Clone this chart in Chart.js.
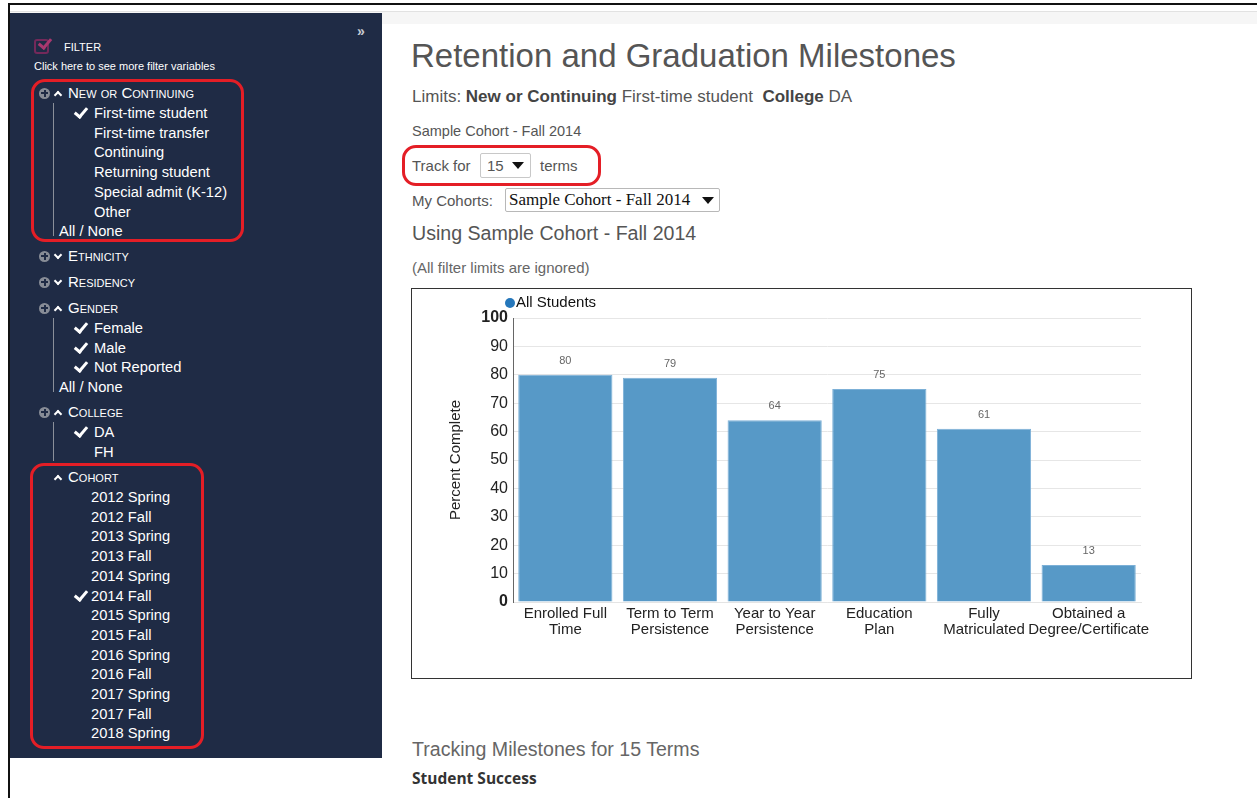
<!DOCTYPE html>
<html>
<head>
<meta charset="utf-8">
<script src="https://cdn.jsdelivr.net/npm/chart.js@4"></script>
<style>
  html, body { margin: 0; padding: 0; background: #fff; }
  body { width: 1257px; height: 798px; position: relative; overflow: hidden; font-family: 'Liberation Sans', Arial, sans-serif; }
  .abs { position: absolute; white-space: nowrap; }
  #frameTop { left: 8px; top: 3px; width: 1249px; height: 2px; background: #111; }
  #frameLeft { left: 8px; top: 3px; width: 2px; height: 795px; background: #111; }
  #strip { left: 10px; top: 11px; width: 1247px; height: 12px; background: #f6f6f6; border-top: 1px solid #e2e2e2; }
  #sidebar { left: 10px; top: 13px; width: 372px; height: 745px; background: #1f2b45; }
  .side { color: #fff; font-size: 14.7px; line-height: 14px; }
  .sc { font-variant: small-caps; font-size: 15px; line-height: 14px; color: #fff; }
  .chk { width: 5px; height: 10px; border-right: 3px solid #fff; border-bottom: 3px solid #fff; transform: rotate(40deg); }
  .plus { width: 11px; height: 11px; border-radius: 50%; background: #878c96; }
  .plus::before { content: ''; position: absolute; left: 2px; top: 4.5px; width: 7px; height: 2px; background: #1f2b45; }
  .plus::after { content: ''; position: absolute; left: 4.5px; top: 2px; width: 2px; height: 7px; background: #1f2b45; }
  .caret { width: 4px; height: 4px; border-top: 2px solid #fff; border-left: 2px solid #fff; }
  .up { transform: rotate(45deg); }
  .down { transform: rotate(225deg); }
  .vline { width: 1px; background: #8a8f99; }
  .redbox { border: 3px solid #e41e26; border-radius: 14px; box-sizing: border-box; }
  .main { color: #555; }
  .sel { border: 1px solid #c8c8c8; border-radius: 2px; box-sizing: border-box; background: #fff; }
  .tri { width: 0; height: 0; border-left: 6px solid transparent; border-right: 6px solid transparent; border-top: 7px solid #111; }
  #chartBox { left: 411px; top: 288px; width: 781px; height: 391px; border: 1px solid #333; box-sizing: border-box; background: #fff; }
</style>
</head>
<body>
<div class="abs" id="frameTop"></div>
<div class="abs" id="strip"></div>
<div class="abs" id="frameLeft"></div>
<div class="abs" id="sidebar"></div>

<!-- 사이드바 헤더 -->
<div class="abs" style="left:357px;top:24px;color:#c9ccd3;font-size:14px;line-height:14px;font-weight:bold;">&raquo;</div>
<div class="abs" style="left:34px;top:39px;width:15px;height:15px;border:2px solid #74295a;border-radius:3px;box-sizing:border-box;"></div>
<div class="abs" style="left:41px;top:36px;width:5px;height:10px;border-right:3px solid #a9386f;border-bottom:3px solid #a9386f;transform:rotate(40deg);"></div>
<div class="abs side" style="left:64px;top:41.5px;font-size:11px;line-height:11px;">FILTER</div>
<div class="abs side" style="left:34px;top:60.5px;font-size:11px;line-height:11px;">Click here to see more filter variables</div>

<div id="filters"></div>

<!-- 본문 -->
<div class="abs main" style="left:411px;top:38.5px;font-size:33px;line-height:33px;">Retention and Graduation Milestones</div>
<div class="abs main" style="left:412px;top:87.5px;font-size:17px;line-height:17px;">Limits: <b style="color:#444">New or Continuing</b> First-time student&nbsp; <b style="color:#444">College</b> DA</div>
<div class="abs main" style="left:412px;top:124px;font-size:14.5px;line-height:14px;">Sample Cohort - Fall 2014</div>
<div class="abs main" style="left:412px;top:157.5px;font-size:15px;line-height:15px;">Track for</div>
<div class="abs sel" style="left:480px;top:153px;width:51px;height:25px;"></div>
<div class="abs main" style="left:487px;top:157.5px;font-size:15px;line-height:15px;">15</div>
<div class="abs tri" style="left:512px;top:162px;"></div>
<div class="abs main" style="left:540px;top:157.5px;font-size:15px;line-height:15px;">terms</div>
<div class="abs redbox" style="left:402px;top:145px;width:199px;height:41px;"></div>
<div class="abs main" style="left:412px;top:192.5px;font-size:15px;line-height:15px;">My Cohorts:</div>
<div class="abs sel" style="left:505px;top:188px;width:215px;height:24px;border-color:#b8b8b8;"></div>
<div class="abs" style="left:509px;top:191px;font-size:17px;line-height:17px;color:#111;font-family:'Liberation Serif','DejaVu Serif',serif;">Sample Cohort - Fall 2014</div>
<div class="abs tri" style="left:702px;top:197px;"></div>
<div class="abs main" style="left:412px;top:223px;font-size:19.6px;line-height:20px;">Using Sample Cohort - Fall 2014</div>
<div class="abs main" style="left:412px;top:259.5px;font-size:15px;line-height:15px;color:#666;">(All filter limits are ignored)</div>

<div class="abs" id="chartBox"><canvas id="chart" width="779" height="389"></canvas></div>

<div class="abs main" style="left:412px;top:739px;font-size:19.6px;line-height:20px;color:#666;">Tracking Milestones for 15 Terms</div>
<div class="abs" style="left:412px;top:771px;font-size:15.5px;line-height:15px;color:#333;font-weight:bold;font-family:'Open Sans',sans-serif;">Student Success</div>

<script>
// 1. 차트 데이터
const seriesName = 'All Students';
const milestones = [
    ['Enrolled Full', 'Time'],
    ['Term to Term', 'Persistence'],
    ['Year to Year', 'Persistence'],
    ['Education', 'Plan'],
    ['Fully', 'Matriculated'],
    ['Obtained a', 'Degree/Certificate']
];
const percentComplete = [80, 79, 64, 75, 61, 13];
const yAxisTitle = 'Percent Complete';

// 2. 사이드바 필터 목록
const filterGroups = [
    { name: 'New or Continuing', y: 93, open: true, plus: true, items: ['First-time student', 'First-time transfer', 'Continuing', 'Returning student', 'Special admit (K-12)', 'Other'], checked: ['First-time student'], allNone: true },
    { name: 'Ethnicity', y: 256, open: false, plus: true, items: [] },
    { name: 'Residency', y: 282, open: false, plus: true, items: [] },
    { name: 'Gender', y: 308, open: true, plus: true, items: ['Female', 'Male', 'Not Reported'], checked: ['Female', 'Male', 'Not Reported'], allNone: true },
    { name: 'College', y: 412, open: true, plus: true, items: ['DA', 'FH'], checked: ['DA'] },
    { name: 'Cohort', y: 477, open: true, plus: false, items: ['2012 Spring', '2012 Fall', '2013 Spring', '2013 Fall', '2014 Spring', '2014 Fall', '2015 Spring', '2015 Fall', '2016 Spring', '2016 Fall', '2017 Spring', '2017 Fall', '2018 Spring'], checked: ['2014 Fall'], textX: 91 }
];

function addDiv(cls, style, html) {
    const d = document.createElement('div');
    d.className = 'abs ' + cls;
    d.setAttribute('style', style);
    if (html) d.innerHTML = html;
    document.getElementById('filters').appendChild(d);
    return d;
}

filterGroups.forEach(function(g) {
    if (g.plus) addDiv('plus', `left:39px;top:${g.y - 5.5}px;`);
    addDiv('caret ' + (g.open ? 'up' : 'down'), `left:55px;top:${g.y - (g.open ? 1 : 4)}px;`);
    addDiv('sc', `left:68px;top:${g.y - 7}px;`, g.name);

    const step = 19.7;
    let y = g.y + 20;
    g.items.forEach(function(item) {
        const x = g.textX || 94;
        if (g.checked && g.checked.includes(item)) {
            addDiv('chk', `left:77px;top:${y - 8}px;`);
        }
        addDiv('side', `left:${x}px;top:${y - 7}px;`, item);
        y += step;
    });
    if (g.allNone) {
        addDiv('side', `left:59px;top:${y - 7}px;`, 'All / None');
    }
    if (g.plus && g.open) {
        const bottom = g.allNone ? y + 5 : y - 10;
        addDiv('vline', `left:53px;top:${g.y + 10}px;height:${bottom - g.y - 10}px;`);
    }
});

addDiv('redbox', 'left:31px;top:79px;width:213px;height:163px;');
addDiv('redbox', 'left:30px;top:463px;width:174px;height:286px;');

// 3. 막대 위 값 표시
const valueLabels = {
    id: 'valueLabels',
    afterDatasetsDraw(chart) {
        const ctx = chart.ctx;
        ctx.save();
        ctx.font = '11px "Liberation Sans", Arial, sans-serif';
        ctx.fillStyle = '#666';
        ctx.textAlign = 'center';
        ctx.textBaseline = 'middle';
        chart.getDatasetMeta(0).data.forEach((bar, i) => {
            ctx.fillText(chart.data.datasets[0].data[i], bar.x, bar.y - 14);
        });
        ctx.restore();
    }
};

// 4. 범례 (왼쪽 위)
const topLegend = {
    id: 'topLegend',
    afterDraw(chart) {
        const ctx = chart.ctx;
        const x = chart.chartArea.left - 3;
        ctx.save();
        ctx.fillStyle = '#2577bb';
        ctx.beginPath();
        ctx.arc(x, 14, 5, 0, Math.PI * 2);
        ctx.fill();
        ctx.font = '15px "Liberation Sans", Arial, sans-serif';
        ctx.fillStyle = '#111';
        ctx.textBaseline = 'middle';
        ctx.fillText(chart.data.datasets[0].label, x + 6, 14);
        ctx.restore();
    }
};

const narrow = "'Liberation Sans Narrow', 'Arial Narrow', 'Liberation Sans', sans-serif";

new Chart(document.getElementById('chart'), {
    type: 'bar',
    data: {
        labels: milestones,
        datasets: [{
            label: seriesName,
            data: percentComplete,
            backgroundColor: '#5799c7',
            borderColor: '#7cb0d7',
            borderWidth: 1,
            barPercentage: 0.9,
            categoryPercentage: 1
        }]
    },
    options: {
        responsive: false,
        animation: false,
        devicePixelRatio: 1,
        layout: { padding: { left: 31, top: 29, right: 50, bottom: 0 } },
        plugins: {
            legend: { display: false },
            tooltip: { enabled: false }
        },
        scales: {
            x: {
                grid: { display: false, drawTicks: false },
                border: { color: '#e4e4e4' },
                ticks: {
                    color: '#222',
                    font: { family: narrow, size: 15, lineHeight: 1.07 },
                    maxRotation: 0,
                    autoSkip: false,
                    padding: 4
                },
                afterFit(scale) { scale.height = 76; }
            },
            y: {
                min: 0,
                max: 100,
                grid: { color: '#e6e6e6', drawTicks: false },
                border: { color: '#666' },
                ticks: {
                    stepSize: 10,
                    color: '#222',
                    padding: 5,
                    font: (c) => ({
                        family: narrow,
                        size: 16,
                        weight: (c.tick && (c.tick.value === 100 || c.tick.value === 0)) ? 'bold' : 'normal'
                    })
                },
                title: {
                    display: true,
                    text: yAxisTitle,
                    color: '#222',
                    font: { family: "'Liberation Sans', Arial, sans-serif", size: 15 }
                },
                afterFit(scale) { scale.width = 70; }
            }
        }
    },
    plugins: [valueLabels, topLegend]
});
</script>
</body>
</html>
